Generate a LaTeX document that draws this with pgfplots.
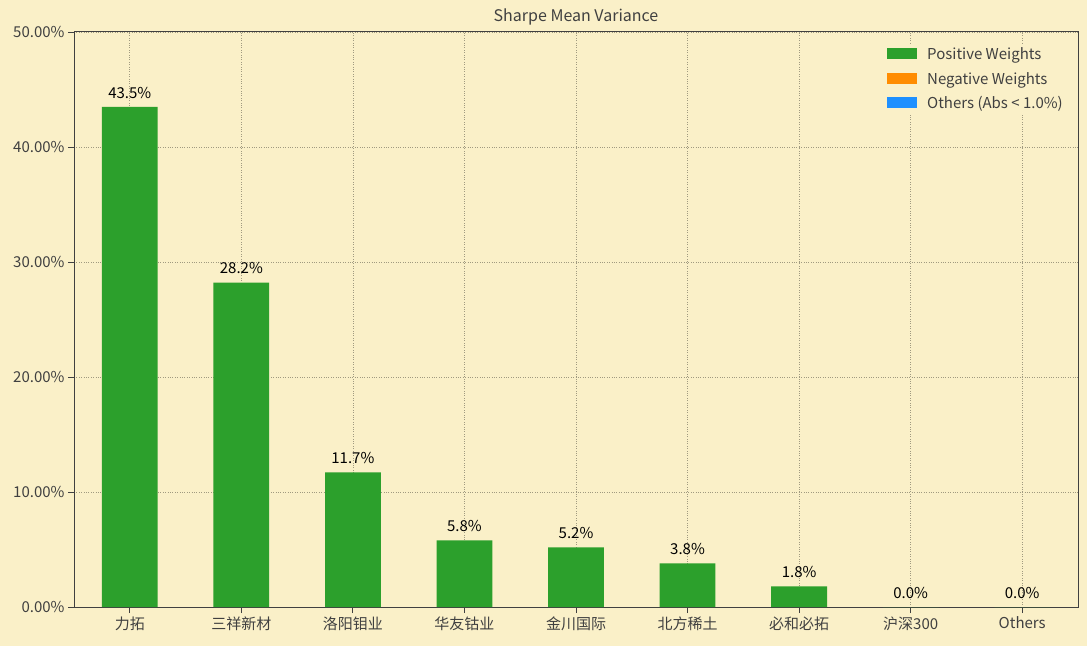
\documentclass[border=0pt]{standalone}
\usepackage{fontspec}
\setmainfont{Noto Sans CJK SC}
\usepackage{pgfplots}
\pgfplotsset{compat=1.18}
\usetikzlibrary{backgrounds,calc}
\definecolor{bg}{HTML}{FAF0C8}
\definecolor{pos}{HTML}{2CA02C}
\definecolor{neg}{HTML}{FF8C00}
\definecolor{oth}{HTML}{1E90FF}
\definecolor{txt}{HTML}{404040}
\definecolor{gridc}{HTML}{A09A80}
\begin{document}
\begin{tikzpicture}
\begin{axis}[name=ax, scale only axis, width=1004pt, height=575pt,
  xmin=-0.5, xmax=8.5, ymin=0, ymax=50,
  xtick={0,...,8},
  xticklabels={力拓,三祥新材,洛阳钼业,华友钴业,金川国际,北方稀土,必和必拓,沪深300,Others},
  ytick={0,10,...,50},
  /pgf/number format/assume math mode=true,
  yticklabel={\pgfmathprintnumber[fixed,fixed zerofill,precision=2]{\tick}\%},
  grid=major, major grid style={gridc, dotted, line width=0.7pt},
  tick align=outside, tick pos=left, major tick length=6pt,
  tick style={txt, line width=0.8pt},
  axis line style={txt, line width=1pt},
  axis background/.style={fill=bg},
  ticklabel style={font=\fontsize{15}{17}\selectfont, text=txt},
  title={Sharpe Mean Variance},
  title style={font=\fontsize{16}{18}\selectfont, text=txt, at={(0.5,1)}, anchor=south, yshift=-3pt},
  legend style={at={(0.99,0.98)}, anchor=north east, draw=none, fill=bg,
    font=\fontsize{15}{17}\selectfont, text=txt, row sep=7pt},
  legend cell align=left,
  legend image code/.code={\fill[#1] (0pt,-5pt) rectangle (30pt,6pt); \path (38pt,0pt);},
]
\addplot[ybar, bar width=0.5, fill=pos, draw=none,
  nodes near coords={\pgfmathprintnumber[fixed,fixed zerofill,precision=1]{\pgfplotspointmeta}\%},
  nodes near coords style={font=\fontsize{15}{17}\selectfont, text=black, yshift=5pt},
  point meta=y]
  coordinates {(0,43.5) (1,28.2) (2,11.7) (3,5.8) (4,5.2) (5,3.8) (6,1.8) (7,0) (8,0)};
\addlegendentry{Positive Weights}
\addlegendimage{fill=neg, draw=none}
\addlegendentry{Negative Weights}
\addlegendimage{fill=oth, draw=none}
\addlegendentry{Others (Abs < 1.0\%)}
\end{axis}
\begin{scope}[on background layer]
\fill[bg] ($(ax.south west)+(-74pt,-39pt)$) rectangle ($(ax.north east)+(9pt,32pt)$);
\end{scope}
\end{tikzpicture}
\end{document}
